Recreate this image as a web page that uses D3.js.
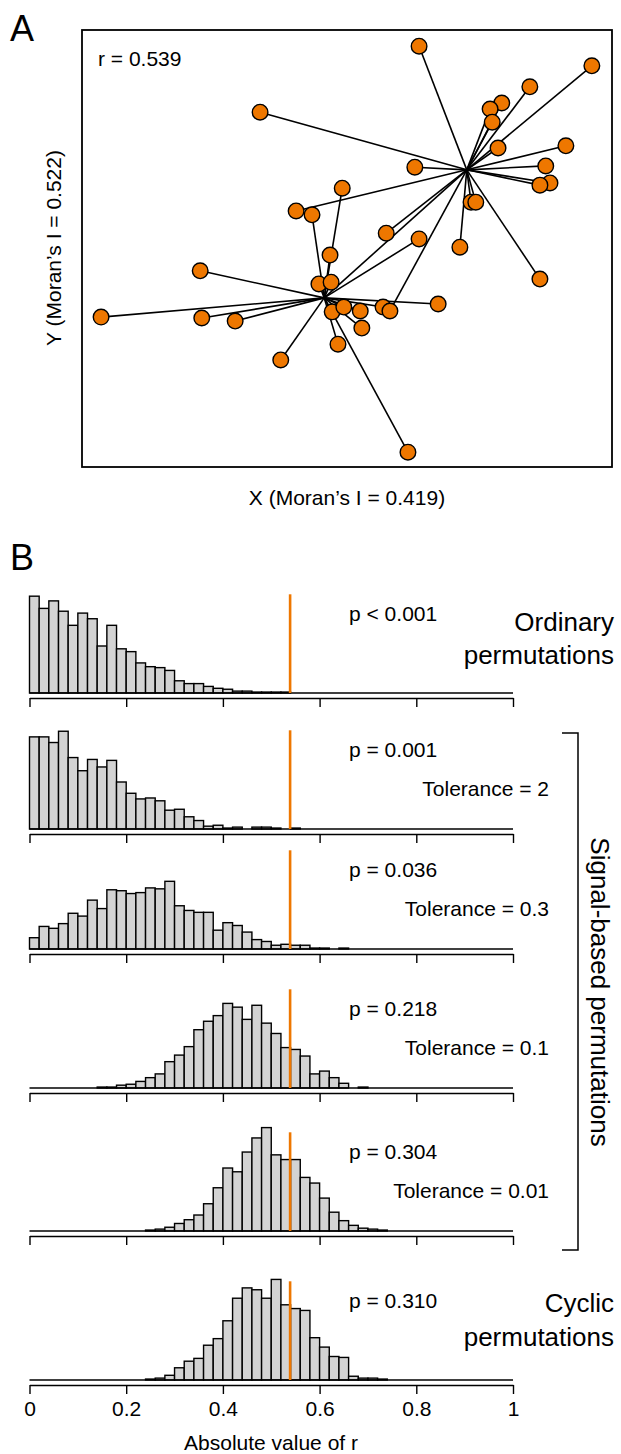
<!DOCTYPE html>
<html>
<head>
<meta charset="utf-8">
<script src="https://cdn.jsdelivr.net/npm/d3@7"></script>
<style>
  body { margin: 0; background: #fff; }
  svg { display: block; }
  text { font-family: "Liberation Sans", Arial, sans-serif; fill: #000; }
</style>
</head>
<body>
<svg id="fig" width="621" height="1454"></svg>
<script>
// === Panel A data: point positions (x, y in plot units 0..100) ===
const ptX = [63.6, 96.2, 84.5, 79.2, 77.0, 77.4, 33.6, 78.5, 91.3, 87.5, 88.3, 86.4, 62.8, 73.4, 74.3,
             71.3, 86.4, 49.1, 40.4, 43.4, 57.4, 63.6, 46.8, 22.3, 3.6, 22.6, 28.9, 37.5, 44.7, 47.0,
             47.2, 49.4, 52.5, 52.8, 48.3, 56.8, 58.1, 67.2, 61.5];
const ptY = [96.3, 91.8, 87.0, 83.3, 81.9, 78.9, 81.2, 73.0, 73.5, 68.9, 65.0, 64.5, 68.6, 60.6, 60.6,
             50.3, 43.0, 63.8, 58.6, 57.7, 53.5, 52.2, 48.5, 44.9, 34.3, 34.1, 33.4, 24.5, 41.9, 42.3,
             35.5, 36.6, 35.7, 31.8, 28.1, 36.6, 35.7, 37.3, 3.4];
// which hub each point is linked to
const ptGroup = [0, 0, 0, 0, 0, 0, 0, 0, 0, 0, 0, 0, 0, 0, 0,
                 0, 0, 1, 0, 1, 0, 1, 1, 1, 1, 1, 1, 1, 1, 1,
                 1, 1, 1, 1, 1, 1, 0, 1, 1];
const hubX = [72.6, 45.7];
const hubY = [68.0, 38.7];
const hubLinks = [[0, 1]];
const rObs = 0.539;

// === Panel B data: histogram counts, bins of width 0.02 starting at 0 ===
const binWidth = 0.02;
const countsOrdinary = [103, 90, 98, 87, 72, 85, 79, 50, 72, 47, 44, 32, 28, 27, 24, 13, 10, 10, 7, 5,
                        4, 2, 2, 1, 1, 1, 1];
const countsTol2 = [98, 98, 92, 104, 76, 62, 74, 66, 73, 50, 38, 32, 33, 30, 20, 21, 13, 9, 3, 4,
                    1, 2, 0, 2, 2, 1, 0, 1];
const countsTol03 = [12, 24, 22, 27, 38, 35, 52, 43, 63, 62, 59, 60, 65, 64, 72, 46, 41, 39, 39, 20,
                     28, 25, 18, 10, 8, 4, 5, 4, 4, 1, 1, 0, 1];
const countsTol01 = [0, 0, 0, 0, 0, 0, 0, 1, 1, 3, 4, 7, 11, 15, 28, 35, 44, 62, 71, 77,
                     90, 86, 73, 88, 69, 58, 43, 41, 34, 15, 18, 11, 5, 0, 1];
const countsTol001 = [0, 0, 0, 0, 0, 0, 0, 0, 0, 0, 0, 0, 1, 2, 4, 8, 12, 17, 29, 46,
                      67, 63, 84, 99, 110, 81, 76, 76, 57, 51, 35, 20, 11, 6, 3, 2, 1];
const countsCyclic = [0, 0, 0, 0, 0, 0, 0, 0, 0, 0, 0, 0, 1, 2, 5, 13, 20, 23, 37, 44,
                      63, 87, 98, 96, 87, 107, 80, 76, 74, 45, 35, 25, 24, 4, 2, 2, 1];
const pLabels = ["p < 0.001", "p = 0.001", "p = 0.036", "p = 0.218", "p = 0.304", "p = 0.310"];
const tolLabels = [null, "Tolerance = 2", "Tolerance = 0.3", "Tolerance = 0.1", "Tolerance = 0.01", null];
const xTicks = [0, 0.2, 0.4, 0.6, 0.8, 1];

const ORANGE = "#EE7700";
const svg = d3.select("#fig");

// ---------- Panel A ----------
const xA = d3.scaleLinear().domain([0, 100]).range([82, 612]);
const yA = d3.scaleLinear().domain([0, 100]).range([467, 30]);

svg.append("text").attr("x", 10).attr("y", 41).attr("font-size", 36).text("A");

svg.append("rect")
  .attr("x", xA(0)).attr("y", yA(100))
  .attr("width", xA(100) - xA(0)).attr("height", yA(0) - yA(100))
  .attr("fill", "none").attr("stroke", "#000").attr("stroke-width", 1.8);

const gA = svg.append("g");
gA.selectAll("line.link")
  .data(ptX.map((d, i) => i))
  .enter().append("line")
  .attr("class", "link")
  .attr("x1", i => xA(ptX[i])).attr("y1", i => yA(ptY[i]))
  .attr("x2", i => xA(hubX[ptGroup[i]])).attr("y2", i => yA(hubY[ptGroup[i]]))
  .attr("stroke", "#000").attr("stroke-width", 1.6);

gA.selectAll("line.hub")
  .data(hubLinks)
  .enter().append("line")
  .attr("class", "hub")
  .attr("x1", d => xA(hubX[d[0]])).attr("y1", d => yA(hubY[d[0]]))
  .attr("x2", d => xA(hubX[d[1]])).attr("y2", d => yA(hubY[d[1]]))
  .attr("stroke", "#000").attr("stroke-width", 1.6);

gA.selectAll("circle")
  .data(ptX.map((d, i) => i))
  .enter().append("circle")
  .attr("cx", i => xA(ptX[i])).attr("cy", i => yA(ptY[i]))
  .attr("r", 7.8)
  .attr("fill", ORANGE).attr("stroke", "#000").attr("stroke-width", 1.4);

svg.append("text").attr("x", 98).attr("y", 66).attr("font-size", 21).text("r = " + rObs.toFixed(3));
svg.append("text").attr("x", 347).attr("y", 505).attr("font-size", 21)
  .attr("text-anchor", "middle").text("X (Moran\u2019s I = 0.419)");
svg.append("text").attr("transform", "translate(61,248) rotate(-90)").attr("font-size", 21)
  .attr("text-anchor", "middle").text("Y (Moran\u2019s I = 0.522)");

// ---------- Panel B ----------
svg.append("text").attr("x", 10).attr("y", 570).attr("font-size", 36).text("B");

const xB = d3.scaleLinear().domain([0, 1]).range([29.5, 513]);
const panelBase = [693, 829, 949, 1088, 1231, 1380];
const panelCounts = [countsOrdinary, countsTol2, countsTol03, countsTol01, countsTol001, countsCyclic];

panelCounts.forEach((counts, k) => {
  const base = panelBase[k];
  const y = d3.scaleLinear().domain([0, 105]).range([base, base - 98.7]);
  const g = svg.append("g");

  g.selectAll("rect")
    .data(counts.map((c, i) => ({ i, c })).filter(d => d.c > 0))
    .enter().append("rect")
    .attr("x", d => xB(d.i * binWidth))
    .attr("width", xB(binWidth) - xB(0))
    .attr("y", d => y(d.c))
    .attr("height", d => base - y(d.c))
    .attr("fill", "#d3d3d3").attr("stroke", "#000").attr("stroke-width", 1.4);

  // zero line under the bars
  g.append("line")
    .attr("x1", xB(0)).attr("x2", xB(1)).attr("y1", base).attr("y2", base)
    .attr("stroke", "#000").attr("stroke-width", 1.6);

  const isLast = k === panelCounts.length - 1;
  const axis = d3.axisBottom(xB).tickValues(xTicks).tickSize(9).tickSizeOuter(0).tickPadding(7)
    .tickFormat(d => isLast ? String(d) : "");
  const ga = g.append("g").attr("transform", `translate(0,${base + 5})`).call(axis);
  ga.select(".domain").attr("stroke-width", 1.4);
  ga.selectAll(".tick line").attr("stroke-width", 1.4);
  ga.selectAll(".tick text").attr("font-size", 21).attr("font-family", "Liberation Sans, Arial, sans-serif");

  g.append("line")
    .attr("x1", xB(rObs)).attr("x2", xB(rObs)).attr("y1", y(0)).attr("y2", y(105))
    .attr("stroke", ORANGE).attr("stroke-width", 2.6);

  g.append("text").attr("x", 349).attr("y", base - 72).attr("font-size", 21).text(pLabels[k]);
  if (tolLabels[k]) {
    g.append("text").attr("x", 549).attr("y", base - 33).attr("font-size", 21)
      .attr("text-anchor", "end").text(tolLabels[k]);
  }
});

svg.append("text").attr("x", 271).attr("y", 1450).attr("font-size", 21)
  .attr("text-anchor", "middle").text("Absolute value of r");

// right-hand labels
svg.append("text").attr("x", 614).attr("y", 631).attr("font-size", 26).attr("text-anchor", "end").text("Ordinary");
svg.append("text").attr("x", 614).attr("y", 664).attr("font-size", 26).attr("text-anchor", "end").text("permutations");
svg.append("text").attr("x", 614).attr("y", 1312).attr("font-size", 26).attr("text-anchor", "end").text("Cyclic");
svg.append("text").attr("x", 614).attr("y", 1346).attr("font-size", 26).attr("text-anchor", "end").text("permutations");

svg.append("path")
  .attr("d", "M562,733 H578 V1250 H562")
  .attr("fill", "none").attr("stroke", "#000").attr("stroke-width", 1.5);
svg.append("text").attr("transform", "translate(591,992) rotate(90)").attr("font-size", 26)
  .attr("text-anchor", "middle").text("Signal-based permutations");
</script>
</body>
</html>
